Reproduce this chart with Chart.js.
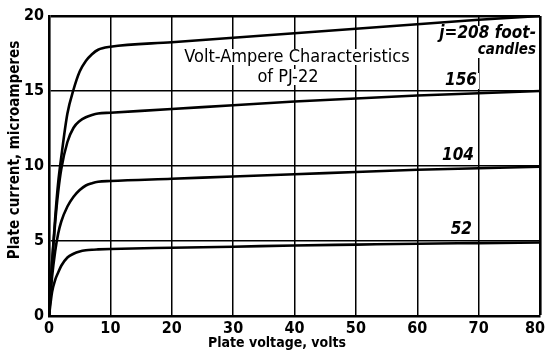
<!DOCTYPE html>
<html>
<head>
<meta charset="utf-8">
<script src="https://cdn.jsdelivr.net/npm/chart.js@4.4.1/dist/chart.umd.min.js"></script>
<style>
  html, body { margin: 0; padding: 0; background: #fff; }
  #wrap { width: 545px; height: 360px; }
</style>
</head>
<body>
<div id="wrap"><canvas id="vaChart"></canvas></div>
<script>
// plate voltage (volts) sampled for every curve
const plateVolts = [0, 0.5, 1, 1.5, 2, 3, 4, 5, 6, 7, 8, 10, 20, 30, 40, 50, 60, 70, 80];

// plate current (microamperes) for each illumination
const current208 = [0, 3.6, 6.5, 8.9, 10.6, 13.5, 15.1, 16.3, 17.0, 17.45, 17.75, 17.95, 18.25, 18.55, 18.85, 19.15, 19.45, 19.75, 20.0];
const current156 = [0, 3.5, 6.2, 8.3, 9.8, 11.6, 12.55, 13.0, 13.25, 13.4, 13.5, 13.55, 13.8, 14.05, 14.3, 14.5, 14.7, 14.85, 15.0];
const current104 = [0, 2.6, 4.3, 5.5, 6.3, 7.3, 7.95, 8.4, 8.7, 8.85, 8.95, 9.0, 9.15, 9.3, 9.45, 9.6, 9.75, 9.85, 9.95];
const current52  = [0, 1.6, 2.4, 2.9, 3.35, 3.9, 4.15, 4.3, 4.38, 4.42, 4.44, 4.47, 4.55, 4.62, 4.7, 4.76, 4.82, 4.86, 4.9];

const footCandles = ['208', '156', '104', '52'];
const allCurrents = [current208, current156, current104, current52];

const xTicks = [0, 10, 20, 30, 40, 50, 60, 70, 80];
const yTicks = [0, 5, 10, 15, 20];

const FONT = '"DejaVu Sans Condensed", "DejaVu Sans", sans-serif';

function toPoints(ys) {
    return plateVolts.map((v, i) => ({ x: v, y: ys[i] }));
}

// text drawn on a white patch so the grid breaks behind it
function patchText(ctx, text, x, y, font, align) {
    ctx.font = font;
    ctx.textAlign = align || 'center';
    ctx.textBaseline = 'middle';
    const w = ctx.measureText(text).width;
    let left = x - w / 2;
    if (align === 'left') left = x;
    if (align === 'right') left = x - w;
    ctx.fillStyle = '#fff';
    ctx.fillRect(left - 2, y - 8, w + 4, 16);
    ctx.fillStyle = '#000';
    ctx.fillText(text, x, y);
}

const labelsPlugin = {
    id: 'labelsPlugin',
    afterDatasetsDraw(chart) {
        const ctx = chart.ctx;
        ctx.save();
        // heading
        patchText(ctx, 'Volt-Ampere Characteristics', 297, 57, '18px ' + FONT);
        patchText(ctx, 'of PJ-22', 288, 77, '18px ' + FONT);

        // curve labels
        const lab = 'italic bold 17px ' + FONT;
        patchText(ctx, 'j=' + footCandles[0] + ' foot-', 536, 34, lab, 'right');
        patchText(ctx, 'candles', 536, 50, 'italic bold 15px ' + FONT, 'right');
        patchText(ctx, footCandles[1], 477, 81, lab, 'right');
        patchText(ctx, footCandles[2], 474, 156, lab, 'right');
        patchText(ctx, footCandles[3], 472, 230, lab, 'right');

        // axis titles
        ctx.font = 'bold 14px ' + FONT;
        ctx.fillStyle = '#000';
        ctx.textAlign = 'center';
        ctx.textBaseline = 'middle';
        ctx.fillText('Plate voltage, volts', 277, 343);
        ctx.font = 'bold 15px ' + FONT;
        ctx.translate(15, 150);
        ctx.rotate(-Math.PI / 2);
        ctx.fillText('Plate current, microamperes', 0, 0);
        ctx.restore();
    }
};

const ctx = document.getElementById('vaChart').getContext('2d');
const vaChart = new Chart(ctx, {
    type: 'line',
    data: {
        datasets: allCurrents.map((ys, i) => ({
            label: footCandles[i],
            data: toPoints(ys),
            borderColor: '#000',
            borderWidth: 2.6,
            pointRadius: 0,
            cubicInterpolationMode: 'monotone',
            fill: false
        }))
    },
    options: {
        responsive: true,
        maintainAspectRatio: false,
        animation: false,
        events: [],
        layout: { padding: { top: 16, right: 5, left: 0, bottom: 0 } },
        plugins: {
            legend: { display: false },
            tooltip: { enabled: false }
        },
        scales: {
            x: {
                type: 'linear',
                min: 0,
                max: 80,
                afterBuildTicks: s => { s.ticks = xTicks.map(v => ({ value: v })); },
                afterFit: s => { s.height = 44; s.paddingLeft = 0; s.paddingRight = 0; },
                ticks: {
                    color: '#000',
                    padding: 3,
                    font: { family: FONT, size: 16, weight: 'bold' },
                    // last label sits a little inside the frame
                    callback: v => v === 80 ? '80\u2007' : String(v)
                },
                grid: {
                    color: '#000',
                    lineWidth: c => (c.tick && (c.tick.value === 80)) ? 2.6 : 1.5,
                    drawTicks: false
                },
                border: { color: '#000', width: 2.6 }
            },
            y: {
                min: 0,
                max: 20,
                afterBuildTicks: s => { s.ticks = yTicks.map(v => ({ value: v })); },
                afterFit: s => { s.width = 49; },
                ticks: {
                    color: '#000',
                    padding: 5,
                    font: { family: FONT, size: 16, weight: 'bold' }
                },
                grid: {
                    color: '#000',
                    lineWidth: c => (c.tick && (c.tick.value === 20)) ? 2.6 : 1.5,
                    drawTicks: false
                },
                border: { color: '#000', width: 2.6 }
            }
        }
    },
    plugins: [labelsPlugin]
});
</script>
</body>
</html>
